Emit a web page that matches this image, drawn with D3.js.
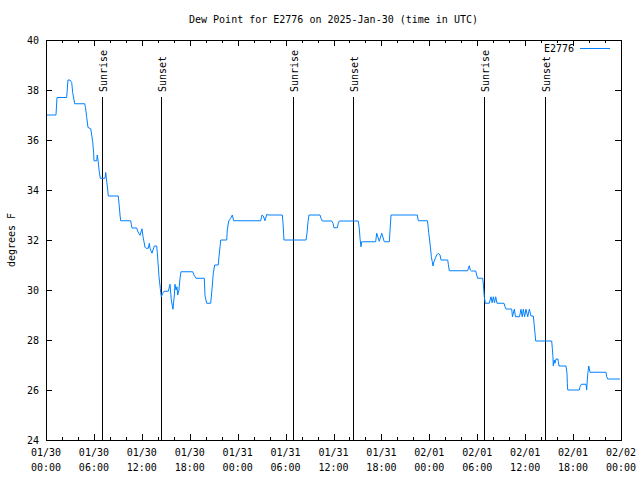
<!DOCTYPE html>
<html>
<head>
<meta charset="utf-8">
<script src="https://cdn.jsdelivr.net/npm/d3@7"></script>
<style>
  body { margin: 0; background: #fff; }
  svg { display: block; }
  text { font-family: "DejaVu Sans Mono", monospace; font-size: 10px; fill: #000; }
</style>
</head>
<body>
<svg id="chart" width="640" height="480"></svg>
<script>
// ---- data (hours since 2025-01-30 00:00 UTC, dew point °F) ----
const title = "Dew Point for E2776 on 2025-Jan-30 (time in UTC)";
const seriesName = "E2776";
const yLabel = "degrees F";
const hours = [0,1.25,1.38,2.59,2.75,3.0,3.22,3.34,3.59,4.85,4.95,5.1,5.26,5.6,5.85,5.97,6.01,6.35,6.42,6.51,6.67,6.8,7.39,7.48,7.55,7.73,7.8,9.05,9.14,9.27,9.35,10.61,10.68,10.77,11.36,11.43,11.61,11.77,12.02,12.15,12.27,12.4,12.52,12.81,12.94,13.02,13.27,13.56,13.86,13.94,14.02,14.15,14.31,14.44,14.61,14.78,15.31,15.53,15.69,15.82,15.9,16.07,16.15,16.28,16.4,16.49,16.65,16.78,16.9,18.37,18.53,18.78,19.82,19.91,20.12,20.62,20.79,20.95,21.12,21.57,21.66,21.79,21.88,22.63,22.7,22.88,23.13,23.33,23.5,26.88,27.05,27.21,27.42,27.64,27.8,29.59,29.68,29.8,32.56,32.68,32.81,32.93,34.31,34.43,34.6,35.77,35.94,36.06,36.48,36.6,36.73,39.1,39.23,39.32,39.44,39.53,39.61,41.28,41.41,41.73,42.04,42.36,42.99,43.07,43.2,46.49,46.62,47.75,47.83,47.92,48.05,48.17,48.25,48.37,48.46,48.58,48.75,48.92,49.12,49.34,49.46,50.3,50.38,50.5,52.8,53.0,53.13,53.26,53.81,53.93,54.06,54.68,54.76,54.88,55.01,55.51,55.72,55.87,56.01,56.16,56.31,56.47,57.35,57.47,57.6,58.31,58.41,58.64,58.79,59.29,59.48,59.63,59.77,59.93,60.1,60.32,60.52,60.73,61.02,61.11,61.23,61.32,63.32,63.4,63.48,63.52,63.65,63.74,63.86,64.11,64.15,64.24,65.11,65.24,65.28,65.33,66.78,66.87,67.03,67.62,67.7,67.78,67.87,67.96,68.03,68.12,70.12,70.21,70.34,71.87];
const dewF = [37.0,37.0,37.7,37.7,38.4,38.4,38.3,37.9,37.45,37.45,37.3,36.9,36.5,36.45,35.93,35.45,35.17,35.17,35.4,35.2,34.73,34.47,34.47,34.7,34.5,34.0,33.76,33.76,33.47,33.0,32.77,32.77,32.63,32.48,32.48,32.4,32.27,32.19,32.45,32.13,31.93,31.71,31.67,31.67,31.87,31.67,31.47,31.76,31.76,31.49,31.13,30.53,30.07,29.73,29.87,29.95,29.95,30.23,29.6,29.36,29.23,29.8,30.23,30.0,30.13,29.8,30.0,30.47,30.73,30.73,30.6,30.47,30.47,29.77,29.47,29.47,30.04,30.67,31.0,31.0,31.33,31.73,32.0,32.0,32.4,32.76,32.87,33.0,32.77,32.77,33.0,32.96,32.77,33.03,33.0,33.0,32.67,32.0,32.0,32.27,32.73,33.0,33.0,32.87,32.76,32.76,32.67,32.49,32.49,32.67,32.76,32.76,32.47,32.07,31.73,31.93,31.93,31.93,32.27,31.95,32.27,31.93,31.93,32.33,33.0,33.0,32.77,32.77,32.6,32.29,31.96,31.6,31.33,31.13,30.96,31.13,31.27,31.4,31.47,31.4,31.2,31.2,31.03,30.77,30.77,30.97,30.8,30.76,30.76,30.6,30.47,30.47,30.24,29.73,29.47,29.47,29.73,29.49,29.73,29.49,29.73,29.47,29.47,29.33,29.24,29.24,28.93,29.23,28.93,28.93,29.23,28.93,29.23,28.93,29.23,28.93,29.23,28.96,28.96,28.67,28.27,27.96,27.96,27.67,27.33,26.96,27.2,27.07,27.24,27.24,27.13,26.96,26.96,26.67,26.27,26.0,26.0,26.13,26.23,26.23,26.0,26.4,26.73,26.96,26.87,26.71,26.71,26.53,26.44,26.44];
const sunEventHours = [7.05, 14.44, 30.97, 38.48, 54.88, 62.52];
const sunEventNames = ["Sunrise","Sunset","Sunrise","Sunset","Sunrise","Sunset"];
const yTicks = [24,26,28,30,32,34,36,38,40];
const xTickDays = ["01/30","01/30","01/30","01/30","01/31","01/31","01/31","01/31","02/01","02/01","02/01","02/01","02/02"];
const xTickTimes = ["00:00","06:00","12:00","18:00","00:00","06:00","12:00","18:00","00:00","06:00","12:00","18:00","00:00"];

// ---- layout ----
const W = 640, H = 480;
const m = {left: 46, right: 621, top: 40, bottom: 440};
const t0 = Date.UTC(2025, 0, 30, 0, 0);
const H_MS = 3600 * 1000;
const toDate = h => new Date(t0 + h * H_MS);
const lineColor = "#0080ff";

const svg = d3.select("#chart");
const x = d3.scaleUtc().domain([toDate(0), toDate(72)]).range([m.left, m.right]);
const y = d3.scaleLinear().domain([24, 40]).range([m.bottom, m.top]);

const majorX = d3.range(0, 73, 6).map(toDate);
const minorX = d3.range(0, 73, 2).filter(h => h % 6 !== 0).map(toDate);

const crisp = g => g.attr("shape-rendering", "crispEdges");

// bottom axis ticks (inward)
svg.append("g").attr("transform", `translate(0,${m.bottom})`).call(crisp)
  .call(d3.axisBottom(x).tickValues(majorX).tickSize(-6).tickFormat(""))
  .call(g => g.select(".domain").remove());
svg.append("g").attr("transform", `translate(0,${m.bottom})`).call(crisp)
  .call(d3.axisBottom(x).tickValues(minorX).tickSize(-3).tickFormat(""))
  .call(g => g.select(".domain").remove());
// top axis ticks (inward)
svg.append("g").attr("transform", `translate(0,${m.top})`).call(crisp)
  .call(d3.axisTop(x).tickValues(majorX).tickSize(-6).tickFormat(""))
  .call(g => g.select(".domain").remove());
svg.append("g").attr("transform", `translate(0,${m.top})`).call(crisp)
  .call(d3.axisTop(x).tickValues(minorX).tickSize(-3).tickFormat(""))
  .call(g => g.select(".domain").remove());
// left & right
svg.append("g").attr("transform", `translate(${m.left},0)`).call(crisp)
  .call(d3.axisLeft(y).tickValues(yTicks).tickSize(-6).tickFormat(""))
  .call(g => g.select(".domain").remove());
svg.append("g").attr("transform", `translate(${m.right},0)`).call(crisp)
  .call(d3.axisRight(y).tickValues(yTicks).tickSize(-6).tickFormat(""))
  .call(g => g.select(".domain").remove());

// y tick labels
svg.append("g").selectAll("text").data(yTicks).join("text")
  .attr("x", m.left - 7).attr("y", d => y(d)).attr("dy", "0.35em")
  .attr("text-anchor", "end").text(d => d);

// x tick labels (two lines)
const xl = svg.append("g");
xl.selectAll("text.d").data(majorX).join("text").attr("class", "d")
  .attr("x", d => x(d)).attr("y", 456).attr("text-anchor", "middle")
  .text((d, i) => xTickDays[i]);
xl.selectAll("text.t").data(majorX).join("text").attr("class", "t")
  .attr("x", d => x(d)).attr("y", 471).attr("text-anchor", "middle")
  .text((d, i) => xTickTimes[i]);

// sunrise / sunset lines
const sun = svg.append("g");
sun.selectAll("line").data(sunEventHours).join("line")
  .attr("x1", d => Math.round(x(toDate(d))) + 0.5).attr("x2", d => Math.round(x(toDate(d))) + 0.5)
  .attr("y1", 97).attr("y2", m.bottom)
  .attr("stroke", "#000").attr("stroke-width", 1).attr("shape-rendering", "crispEdges");
sun.selectAll("text").data(sunEventHours).join("text")
  .attr("transform", d => `translate(${x(toDate(d)) + 1},92) rotate(-90)`)
  .attr("dy", "0.35em").attr("text-anchor", "start")
  .text((d, i) => sunEventNames[i]);

// data line
const line = d3.line().x((d, i) => x(toDate(hours[i]))).y(d => y(d));
svg.append("path").datum(dewF).attr("d", line)
  .attr("fill", "none").attr("stroke", lineColor).attr("stroke-width", 1);

// frame
svg.append("rect").attr("x", m.left + 0.5).attr("y", m.top + 0.5)
  .attr("width", m.right - m.left).attr("height", m.bottom - m.top)
  .attr("fill", "none").attr("stroke", "#000").attr("shape-rendering", "crispEdges");

// title
svg.append("text").attr("x", (m.left + m.right) / 2).attr("y", 23)
  .attr("text-anchor", "middle").text(title);

// y label
svg.append("text").attr("transform", `translate(11,240) rotate(-90)`)
  .attr("text-anchor", "middle").attr("dy", "0.35em").text(yLabel);

// legend
svg.append("text").attr("x", 574).attr("y", 48).attr("dy", "0.35em")
  .attr("text-anchor", "end").text(seriesName);
svg.append("line").attr("x1", 580).attr("x2", 610).attr("y1", 48.5).attr("y2", 48.5)
  .attr("stroke", lineColor).attr("stroke-width", 1);
</script>
</body>
</html>
